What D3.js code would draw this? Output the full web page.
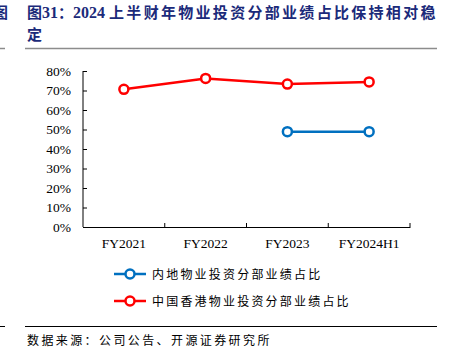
<!DOCTYPE html>
<html>
<head>
<meta charset="utf-8">
<script src="https://cdn.jsdelivr.net/npm/d3@7"></script>
<style>
  body { margin: 0; background: #fff; }
  svg { display: block; }
</style>
</head>
<body>
<div id="chart"></div>
<script>
// chart values
let categories = ["FY2021", "FY2022", "FY2023", "FY2024H1"];
let mainland = [null, null, 0.489, 0.489];
let hongkong = [0.706, 0.762, 0.733, 0.744];
let yTicks = [0, 0.1, 0.2, 0.3, 0.4, 0.5, 0.6, 0.7, 0.8];
let seriesNames = ["内地物业投资分部业绩占比", "中国香港物业投资分部业绩占比"];
let seriesColors = ["#0070C0", "#FF0000"];

let W = 455, H = 358;
let svg = d3.select("#chart").append("svg")
    .attr("width", W)
    .attr("height", H);

let cjk = "'Noto Sans CJK SC', sans-serif";
let serif = "'Liberation Serif', 'Times New Roman', serif";

// title block
let titleColor = "#1B2A7A";
svg.append("text")
    .attr("x", -7).attr("y", 18)
    .attr("fill", titleColor)
    .attr("font-family", cjk)
    .attr("font-weight", "bold")
    .attr("font-size", 15)
    .text("图");
let title = svg.append("text")
    .attr("x", 27).attr("y", 18)
    .attr("fill", titleColor)
    .attr("font-family", cjk)
    .attr("font-weight", "bold")
    .attr("font-size", 15);
title.append("tspan").text("图");
title.append("tspan").attr("font-family", serif).attr("font-size", 16).text("31");
title.append("tspan").text("：");
title.append("tspan").attr("font-family", serif).attr("font-size", 16).text("2024 ");
title.append("tspan").attr("letter-spacing", 2.3).text("上半财年物业投资分部业绩占比保持相对稳");
svg.append("text")
    .attr("x", 27).attr("y", 40)
    .attr("fill", titleColor)
    .attr("font-family", cjk)
    .attr("font-weight", "bold")
    .attr("font-size", 15)
    .text("定");

svg.append("line").attr("x1", 25).attr("x2", 437).attr("y1", 48.5).attr("y2", 48.5)
    .attr("stroke", "#8c8c8c").attr("stroke-width", 1.5);
svg.append("line").attr("x1", 0).attr("x2", 5).attr("y1", 48.5).attr("y2", 48.5)
    .attr("stroke", "#8c8c8c").attr("stroke-width", 1.5);

// plot
let margin = { top: 71, left: 83, right: 45, bottom: 131 };
let width = W - margin.left - margin.right,
    height = H - margin.top - margin.bottom;

let g = svg.append("g")
    .attr("transform", "translate(" + margin.left + "," + margin.top + ")");

let x = d3.scaleBand().domain(categories).range([0, width]);
let y = d3.scaleLinear().domain([0, 0.8]).range([height, 0]);

let xAxis = g.append("g")
    .attr("transform", "translate(0," + height + ")")
    .call(d3.axisBottom(x).tickSize(0).tickPadding(11));
xAxis.selectAll("text")
    .attr("font-family", serif)
    .attr("font-size", 13.5)
    .attr("fill", "#000");
xAxis.select(".domain").attr("stroke", "#000");
// category boundary ticks
xAxis.selectAll(".bound")
    .data(categories.slice(1).concat(["end"]))
    .enter().append("line")
    .attr("class", "bound")
    .attr("x1", function(d, i) { return x.bandwidth() * (i + 1); })
    .attr("x2", function(d, i) { return x.bandwidth() * (i + 1); })
    .attr("y1", 0).attr("y2", -4)
    .attr("stroke", "#000");

let yAxis = g.append("g")
    .call(d3.axisLeft(y).tickValues(yTicks).tickSize(-4).tickPadding(12)
        .tickFormat(d3.format(".0%")));
yAxis.selectAll("text")
    .attr("font-family", serif)
    .attr("font-size", 13.5)
    .attr("fill", "#000");
yAxis.select(".domain").attr("stroke", "#000");
yAxis.selectAll(".tick line").attr("stroke", "#000");
yAxis.select(".domain").attr("d", "M0,0V" + height);

let line = d3.line()
    .defined(function(d) { return d.v !== null; })
    .x(function(d) { return x(d.c) + x.bandwidth() / 2; })
    .y(function(d) { return y(d.v); });

let series = [mainland, hongkong];
series.forEach(function(vals, k) {
    let pts = vals.map(function(v, i) { return { c: categories[i], v: v }; });
    g.append("path")
        .datum(pts)
        .attr("fill", "none")
        .attr("stroke", seriesColors[k])
        .attr("stroke-width", 2.5)
        .attr("d", line);
    g.selectAll(".pt" + k)
        .data(pts.filter(function(d) { return d.v !== null; }))
        .enter().append("circle")
        .attr("class", "pt" + k)
        .attr("cx", function(d) { return x(d.c) + x.bandwidth() / 2; })
        .attr("cy", function(d) { return y(d.v); })
        .attr("r", 4.5)
        .attr("fill", "#fff")
        .attr("stroke", seriesColors[k])
        .attr("stroke-width", 2.5);
});

// legend
let legend = svg.append("g").attr("transform", "translate(114,274)");
seriesNames.forEach(function(name, k) {
    let row = legend.append("g").attr("transform", "translate(0," + (k * 27) + ")");
    row.append("line").attr("x1", 0).attr("x2", 32).attr("y1", 0).attr("y2", 0)
        .attr("stroke", seriesColors[k]).attr("stroke-width", 2.5);
    row.append("circle").attr("cx", 16).attr("cy", 0).attr("r", 4.5)
        .attr("fill", "#fff").attr("stroke", seriesColors[k]).attr("stroke-width", 2.5);
    row.append("text").attr("x", 38).attr("y", 4.5)
        .attr("font-family", cjk)
        .attr("font-size", 12)
        .attr("letter-spacing", 2.2)
        .attr("fill", "#000")
        .text(name);
});

// source
svg.append("line").attr("x1", 25).attr("x2", 437).attr("y1", 326.5).attr("y2", 326.5)
    .attr("stroke", "#000").attr("stroke-width", 1);
svg.append("line").attr("x1", 0).attr("x2", 5).attr("y1", 326.5).attr("y2", 326.5)
    .attr("stroke", "#000").attr("stroke-width", 1);
svg.append("text")
    .attr("x", 27).attr("y", 345)
    .attr("font-family", cjk)
    .attr("font-size", 12)
    .attr("letter-spacing", 2.4)
    .attr("fill", "#000")
    .text("数据来源：公司公告、开源证券研究所");
</script>
</body>
</html>
